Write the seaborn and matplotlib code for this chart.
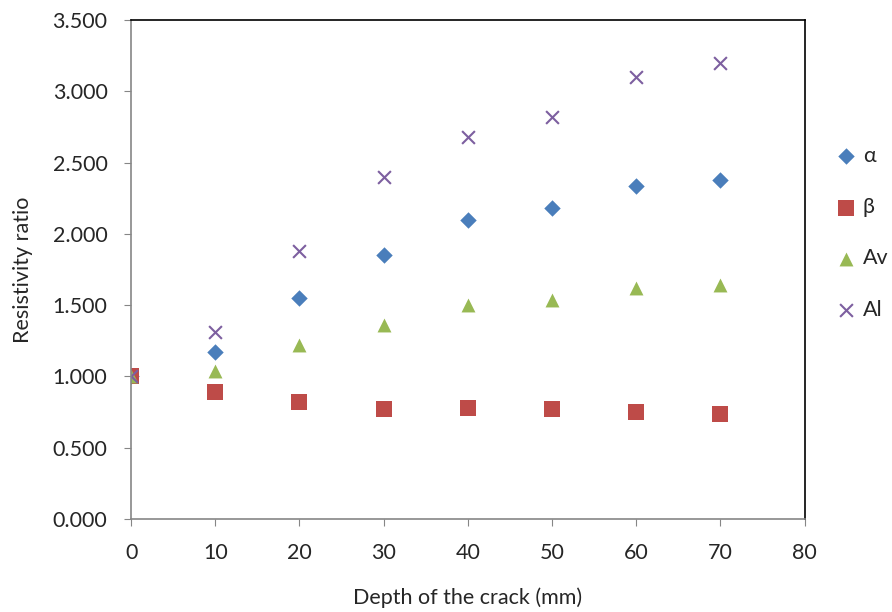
import matplotlib
matplotlib.use("Agg")
from matplotlib import pyplot as plt
import matplotlib.ticker as ticker
import seaborn as sns
import pandas as pd

depth = [0, 10, 20, 30, 40, 50, 60, 70]
alpha = [1.00, 1.17, 1.55, 1.85, 2.10, 2.18, 2.34, 2.38]
beta = [1.00, 0.89, 0.82, 0.77, 0.78, 0.77, 0.75, 0.74]
av = [1.00, 1.04, 1.22, 1.36, 1.50, 1.54, 1.62, 1.64]
al = [1.00, 1.31, 1.88, 2.40, 2.68, 2.82, 3.10, 3.20]

series = ["α", "β", "Av", "Al"]
colors = ["#4a7ebb", "#be4b48", "#98b954", "#7d5fa0"]
markers = ["D", "s", "^", "x"]
sizes = [70, 130, 100, 85]

df = pd.concat([
    pd.DataFrame({"depth": depth, "ratio": vals, "series": name})
    for name, vals in zip(series, [alpha, beta, av, al])
])

sns.set_style("white")
plt.rcParams["font.family"] = ["Lato", "DejaVu Sans"]

fig = plt.figure(figsize=(8.92, 6.12), dpi=100)
ax = fig.add_axes([0.147, 0.152, 0.755, 0.815])

for name, c, m, s in zip(series, colors, markers, sizes):
    sub = df[df["series"] == name]
    kw = dict(linewidth=1.5) if m == "x" else dict(linewidth=0)
    sns.scatterplot(data=sub, x="depth", y="ratio", color=c, marker=m, s=s,
                    label=name, ax=ax, **kw)

ax.set_xlim(0, 80)
ax.set_ylim(0, 3.5)
ax.xaxis.set_major_locator(ticker.MultipleLocator(10))
ax.yaxis.set_major_locator(ticker.MultipleLocator(0.5))
ax.yaxis.set_major_formatter(ticker.FormatStrFormatter("%.3f"))
ax.set_xlabel("Depth of the crack (mm)", fontsize=15.5, labelpad=18)
ax.set_ylabel("Resistivity ratio", fontsize=15.5, labelpad=14)
ax.tick_params(axis="both", labelsize=15.5, direction="out", length=5,
               color="#868686", left=True, bottom=True)
ax.tick_params(axis="y", pad=12)
ax.tick_params(axis="x", pad=12)
for side in ["left", "bottom"]:
    ax.spines[side].set_color("#868686")
    ax.spines[side].set_linewidth(1.2)
for side in ["top", "right"]:
    ax.spines[side].set_color("black")
    ax.spines[side].set_linewidth(1.2)
for lab in ax.get_xticklabels() + ax.get_yticklabels():
    lab.set_clip_on(False)

handles, labels = ax.get_legend_handles_labels()
ax.get_legend().remove()
fig.legend(handles, labels, loc="upper left", bbox_to_anchor=(835 / 892, 1 - 146 / 612),
           frameon=False, fontsize=15.5, labelspacing=1.45, handlelength=1.0,
           handletextpad=0.3, borderpad=0, borderaxespad=0)

fig.savefig("out.png", dpi=100)
